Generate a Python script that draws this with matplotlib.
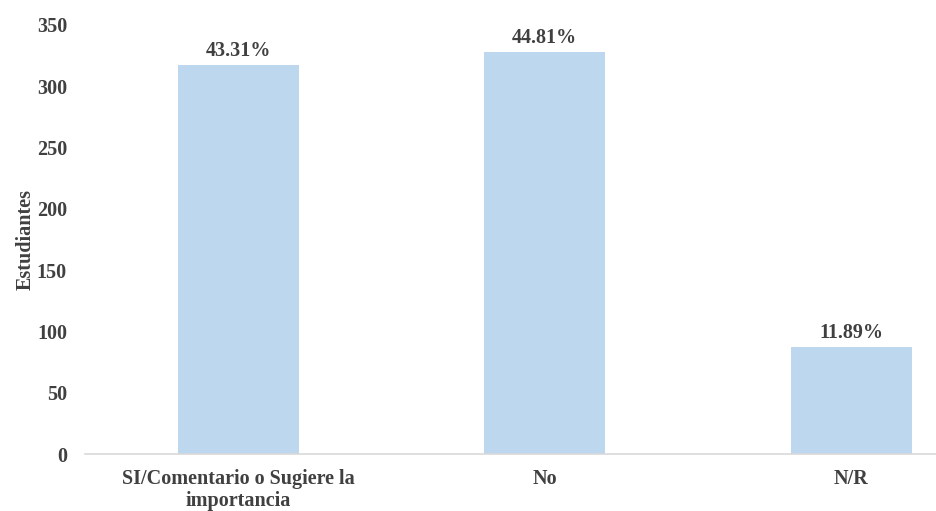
import matplotlib.pyplot as plt

# data
categorias = ["SI/Comentario o Sugiere la\nimportancia", "No", "N/R"]
estudiantes = [317, 328, 87]
porcentajes = ["43.31%", "44.81%", "11.89%"]
yticks = [0, 50, 100, 150, 200, 250, 300, 350]

plt.rcParams['font.family'] = ['Liberation Serif', 'DejaVu Serif']
plt.rcParams['font.weight'] = 'bold'
texto = '#404040'
fs = 14.5

fig = plt.figure(figsize=(9.37, 5.11), dpi=100)
ax = fig.add_axes([85 / 937, 57 / 511, 852 / 937, 429 / 511])

x = range(len(categorias))
bars = ax.bar(x, estudiantes, width=0.395, color='#bdd7ee')

for b, p in zip(bars, porcentajes):
    ax.annotate(p, (b.get_x() + b.get_width() / 2, b.get_height()),
                xytext=(0, 3), textcoords='offset points',
                ha='center', va='bottom', fontsize=fs,
                fontweight='bold', color=texto)

ax.set_xlim(-0.5, 2.28)
ax.set_ylim(0, 350)
ax.set_yticks(yticks)
ax.set_xticks(list(x))
ax.set_xticklabels(categorias, fontsize=fs, fontweight='bold',
                   color=texto, linespacing=1.1)
ax.tick_params(axis='y', labelsize=fs, labelcolor=texto, length=0, pad=13)
ax.tick_params(axis='x', length=0, pad=11)
ax.set_ylabel("Estudiantes", fontsize=fs, fontweight='bold', color=texto)
ax.yaxis.set_label_coords(-49 / 852, 0.5)

for s in ['top', 'right', 'left']:
    ax.spines[s].set_visible(False)
ax.spines['bottom'].set_color('#d9d9d9')
ax.spines['bottom'].set_linewidth(1.2)

fig.savefig("out.png", dpi=100)
